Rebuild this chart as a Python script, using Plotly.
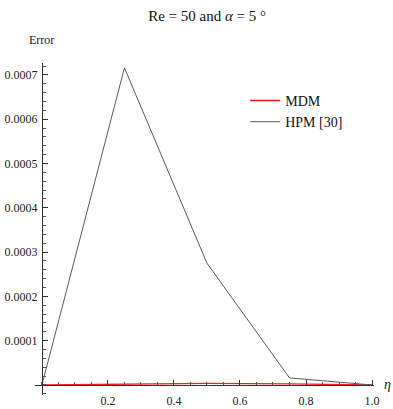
import plotly.graph_objects as go

eta = [0.0, 0.25, 0.5, 0.75, 1.0]
mdm = [0.0, 0.0000015, 0.0000035, 0.0000025, 0.0]
hpm = [0.0, 0.000716, 0.000275, 0.000016, 0.0]

x_ticks = [0.2, 0.4, 0.6, 0.8, 1.0]
x_ticktext = ["0.2", "0.4", "0.6", "0.8", "1.0"]
y_ticks = [0.0001, 0.0002, 0.0003, 0.0004, 0.0005, 0.0006, 0.0007]
y_ticktext = ["0.0001", "0.0002", "0.0003", "0.0004", "0.0005", "0.0006", "0.0007"]

XR = [-0.021, 1.006]
YR = [-0.0000226, 0.000727]

FONT = "Liberation Serif, Times New Roman, serif"

fig = go.Figure()
fig.add_trace(go.Scatter(x=eta, y=mdm, mode="lines", name="MDM",
                         line=dict(color="#ff1a1a", width=1.3)))
fig.add_trace(go.Scatter(x=eta, y=hpm, mode="lines", name="HPM [30]",
                         line=dict(color="#5a5a5a", width=1)))

xpos = (0 - YR[0]) / (YR[1] - YR[0])
ypos = (0 - XR[0]) / (XR[1] - XR[0])

fig.update_layout(
    width=393, height=409,
    margin=dict(l=35, r=19, t=63, b=14, autoexpand=False),
    paper_bgcolor="white", plot_bgcolor="white",
    font=dict(family=FONT, size=12, color="#222"),
    title=dict(text="Re = 50 and <i>α</i> = 5 °", x=0.527, xanchor="center",
               y=0.962, yanchor="middle", font=dict(family=FONT, size=15, color="#111")),
    xaxis=dict(range=XR, showgrid=False, zeroline=False, showline=True, automargin=False,
               linecolor="#333", linewidth=1, anchor="free", position=xpos,
               tickvals=x_ticks, ticktext=x_ticktext, ticks="inside", ticklen=5,
               tickcolor="#333", ticklabelstandoff=5,
               tickfont=dict(family=FONT, size=12, color="#222"),
               minor=dict(dtick=0.05, tick0=0, ticks="inside", ticklen=3, tickcolor="#555")),
    yaxis=dict(range=YR, showgrid=False, zeroline=False, showline=True, automargin=False,
               linecolor="#333", linewidth=1, anchor="free", position=ypos,
               tickvals=y_ticks, ticktext=y_ticktext, ticks="inside", ticklen=5,
               tickcolor="#333", ticklabelstandoff=2,
               tickfont=dict(family=FONT, size=12, color="#222"),
               minor=dict(dtick=0.00002, tick0=0, ticks="inside", ticklen=3, tickcolor="#555")),
    legend=dict(x=0.62, y=0.934, xanchor="left", yanchor="top",
                bgcolor="rgba(0,0,0,0)", font=dict(family=FONT, size=14, color="#111"),
                tracegroupgap=0, itemwidth=30),
    showlegend=True,
)

fig.add_annotation(text="Error", xref="paper", yref="paper", x=0.02, y=1.07,
                   xanchor="center", yanchor="middle", showarrow=False,
                   font=dict(family=FONT, size=12, color="#222"))
fig.add_annotation(text="<i>η</i>", xref="paper", yref="y", x=1.04, y=0,
                   xanchor="center", yanchor="middle", showarrow=False,
                   font=dict(family=FONT, size=14, color="#222"))

fig.write_html("out.html")
